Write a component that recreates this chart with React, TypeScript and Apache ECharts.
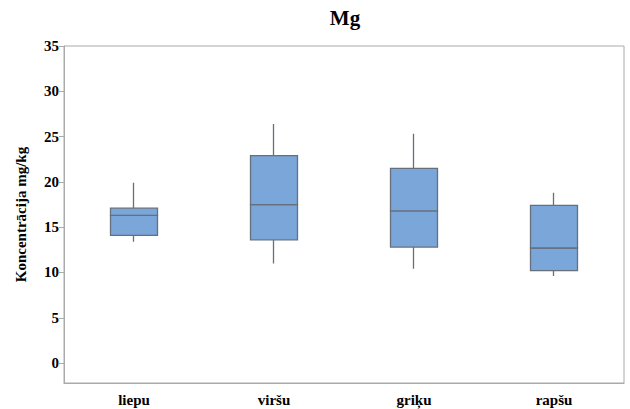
import React, { useEffect, useRef } from "react";
import * as echarts from "echarts";

const categories = ["liepu", "viršu", "griķu", "rapšu"];
// box statistics per category
const mins = [13.4, 11.0, 10.4, 9.6];
const q1s = [14.1, 13.6, 12.8, 10.2];
const medians = [16.3, 17.5, 16.8, 12.7];
const q3s = [17.1, 22.9, 21.5, 17.4];
const maxs = [19.9, 26.4, 25.3, 18.8];
const yTicks = [0, 5, 10, 15, 20, 25, 30, 35];

export default function App() {
  const ref = useRef<HTMLDivElement>(null);
  useEffect(() => {
    if (!ref.current) return;
    const chart = echarts.init(ref.current, null, { renderer: "svg" });
    // candlestick: [open, close, lowest, highest]
    const lower = categories.map((_, i) => [q1s[i], medians[i], mins[i], medians[i]]);
    const upper = categories.map((_, i) => [medians[i], q3s[i], medians[i], maxs[i]]);
    const font = "'Liberation Serif', 'Times New Roman', serif";
    const boxStyle = {
      color: "#7ba6da",
      color0: "#7ba6da",
      borderColor: "#66707c",
      borderColor0: "#66707c",
      borderWidth: 1.3,
    };
    chart.setOption({
      animation: false,
      backgroundColor: "#ffffff",
      title: {
        text: "Mg",
        left: 340,
        textAlign: "center",
        top: 2,
        textStyle: { fontFamily: font, fontWeight: "bold", fontSize: 21, color: "#000" },
      },
      grid: {
        left: 64,
        right: 6,
        top: 46,
        bottom: 26,
        show: true,
        borderColor: "#aaaaaa",
        borderWidth: 1,
        backgroundColor: "#ffffff",
      },
      xAxis: {
        type: "category",
        data: categories,
        boundaryGap: true,
        axisLine: { onZero: false, lineStyle: { color: "#aaaaaa" } },
        axisTick: { alignWithLabel: true, length: 4, lineStyle: { color: "#aaaaaa" } },
        axisLabel: {
          fontFamily: font,
          fontWeight: "bold",
          fontSize: 15,
          color: "#000",
          margin: 9,
        },
        splitLine: { show: false },
      },
      yAxis: {
        type: "value",
        min: -2.2,
        max: 35,
        name: "Koncentrācija mg/kg",
        nameLocation: "middle",
        nameGap: 36,
        nameRotate: 90,
        nameTextStyle: { fontFamily: font, fontWeight: "bold", fontSize: 15, color: "#000" },
        axisLine: { show: true, lineStyle: { color: "#aaaaaa" } },
        axisTick: { show: true, length: 5, customValues: yTicks, lineStyle: { color: "#aaaaaa" } },
        axisLabel: {
          customValues: yTicks,
          fontFamily: font,
          fontWeight: "bold",
          fontSize: 15,
          color: "#000",
          margin: 5,
        },
        splitLine: { show: false },
      },
      series: [
        { type: "candlestick", data: lower, barWidth: 48, itemStyle: boxStyle },
        { type: "candlestick", data: upper, barWidth: 48, barGap: "-100%", itemStyle: boxStyle },
      ],
    });
    return () => chart.dispose();
  }, []);
  return (
    <div
      ref={ref}
      style={{ position: "fixed", left: 0, top: 0, width: 630, height: 409 }}
    />
  );
}
